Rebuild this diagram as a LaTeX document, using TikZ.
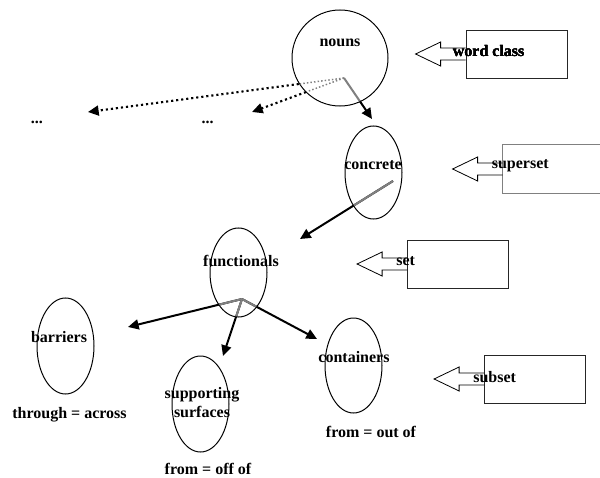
\documentclass[tikz,border=0pt]{standalone}
\usepackage{fontspec}
\setmainfont{Liberation Serif}
\usetikzlibrary{shapes.geometric,arrows.meta}

\tikzset{
	cls/.style={draw, ellipse, inner sep=0pt, line width=0.75pt},
	txt/.style={inner sep=0pt},
	tagbox/.style={draw=black!85, line width=0.6pt, minimum width=75.75pt, minimum height=36pt, inner sep=0pt},
	isa/.style={line width=1.5pt, -{Triangle[length=8pt,width=7.5pt]}},
	maybe/.style={line width=1.6pt, dash pattern=on 1.6pt off 2.2pt, -{Triangle[length=8pt,width=7.5pt]}},
	inside/.style={gray, line width=1.5pt},
	insidedots/.style={gray, line width=1.1pt, dash pattern=on 1.1pt off 1.6pt}
}
\newcommand{\tagarrow}[1]{%
	\draw[line width=0.6pt] (#1.west) ++(0,-6) -- ++(-25,0) -- ++(0,-6) -- ++(-25,12) -- ++(25,12) -- ++(0,-6) -- ++(25,0);}

\begin{document}
\begin{tikzpicture}[x=0.75pt, y=-0.75pt, font=\fontsize{12}{14.25}\selectfont\bfseries]
	\useasboundingbox (0,0) rectangle (600,478);

	\node[cls, minimum size=72pt] (nouns) at (340,58) {};
	\node[cls, minimum width=42.75pt, minimum height=69.75pt] (concrete) at (373.5,172.5) {};
	\node[cls, minimum width=42.75pt, minimum height=66.75pt] (functionals) at (238.5,272.5) {};
	\node[cls, minimum width=42.75pt, minimum height=72pt] (barriers) at (65.5,346) {};
	\node[cls, minimum width=42.75pt, minimum height=72pt] (supporting) at (200.5,404) {};
	\node[cls, minimum width=42.75pt, minimum height=71.25pt] (containers) at (353.5,365.5) {};

	\coordinate (nroot) at (344,78);
	\coordinate (toetcA) at (88,112);
	\coordinate (toetcB) at (252,112);
	\coordinate (toconcrete) at (372,119);
	\coordinate (croot) at (393,181);
	\coordinate (tofunctionals) at (300,239);
	\coordinate (froot) at (242,299);
	\coordinate (tobarriers) at (128,327);
	\coordinate (tosupporting) at (223,356);
	\coordinate (tocontainers) at (317,339);

	\draw[maybe] (nroot) -- (toetcA);
	\draw[maybe] (nroot) -- (toetcB);
	\draw[isa] (nroot) -- (toconcrete);
	\draw[isa] (croot) -- (tofunctionals);
	\foreach \t in {tobarriers, tosupporting, tocontainers}
		\draw[isa] (froot) -- (\t);

	\begin{scope}
		\clip (nouns.center) ellipse (47.5 and 47.5);
		\fill[white] (nouns.center) ellipse (47 and 47);
		\draw[insidedots] (nroot) -- (toetcA);
		\draw[insidedots] (nroot) -- (toetcB);
		\draw[inside] (nroot) -- (toconcrete);
	\end{scope}
	\begin{scope}
		\clip (concrete.center) ellipse (28 and 46);
		\draw[inside] (croot) -- (tofunctionals);
	\end{scope}
	\begin{scope}
		\clip (functionals.center) ellipse (28 and 44);
		\foreach \t in {tobarriers, tosupporting, tocontainers}
			\draw[inside] (froot) -- (\t);
	\end{scope}

	\node[txt] (nounslabel) at (340,43) {nouns};
	\node[txt] (concretelabel) at (373,165) {concrete};
	\node[txt] (functionalslabel) at (241,261) {functionals};
	\node[txt] (barrierslabel) at (59,337) {barriers};
	\node[txt, align=center] (supportinglabel) at (202,403) {supporting\\surfaces};
	\node[txt] (containerslabel) at (354,357) {containers};

	\node[txt] (etcA) at (37,122) {...};
	\node[txt] (etcB) at (207.5,122) {...};

	\node[txt] (barriersrule) at (69.5,415) {through = across};
	\node[txt] (supportingrule) at (208,469) {from = off of};
	\node[txt] (containersrule) at (371,432) {from = out of};

	\node[tagbox] (wordclass) at (516.5,54) {};
	\node[tagbox, draw=none, minimum width=72.75pt] (superset) at (551.5,169) {};
	\draw[gray, line width=1.2pt] (superset.north east) -- (superset.north west)
		-- (superset.south west) -- (superset.south east);
	\node[tagbox] (set) at (458,264) {};
	\node[tagbox] (subset) at (535,379) {};
	\foreach \b in {wordclass, superset, set, subset}
		\tagarrow{\b}
	\node[txt, anchor=west] at ([shift={(-13,-3)}]wordclass.west) {word class};
	\node[txt, anchor=west] at ([shift={(-11,-3)}]superset.west) {superset};
	\node[txt, anchor=west] at ([shift={(-11,-3)}]set.west) {set};
	\node[txt, anchor=west] at ([shift={(-11,-2)}]subset.west) {subset};
\end{tikzpicture}
\end{document}
